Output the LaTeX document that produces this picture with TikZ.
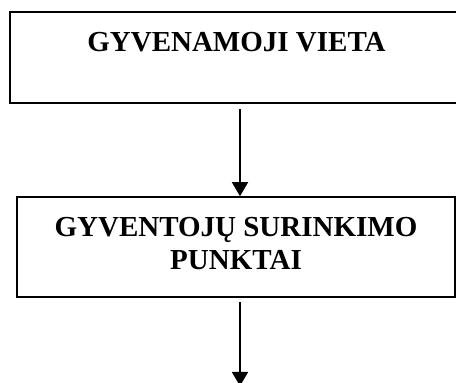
\documentclass[tikz,border=0pt]{standalone}
\usepackage{fontspec}
\setmainfont{Liberation Serif}
\usetikzlibrary{arrows.meta}
\begin{document}
\begin{tikzpicture}[x=1pt,y=1pt,
  box/.style={draw=black, line width=1.8pt, inner sep=0pt, anchor=south west},
  lbl/.style={font=\fontsize{29}{33}\selectfont\bfseries, inner sep=0pt, align=center},
  arr/.style={line width=1.7pt, -{Triangle[length=14pt,width=16pt]}}]
\useasboundingbox (0,0) rectangle (456,383);
\clip (0,0) rectangle (456,383);
\node[box, minimum width=461pt, minimum height=91pt] (box1) at (9,279) {};
\node[box, minimum width=438pt, minimum height=100pt] (box2) at (16,85) {};
\node[lbl, anchor=base] (t1) at (236.5,331) {GYVENAMOJI VIETA};
\node[lbl, anchor=base] (t2a) at (236,146) {GYVENTOJŲ SURINKIMO};
\node[lbl, anchor=base] (t2b) at (236,113) {PUNKTAI};
\coordinate (a1) at (240,274);
\coordinate (a2) at (240,81);
\coordinate (e2) at (240,-3);
\draw[arr] (a1) -- (a1 |- box2.north);
\draw[arr] (a2) -- (e2);
\end{tikzpicture}
\end{document}
